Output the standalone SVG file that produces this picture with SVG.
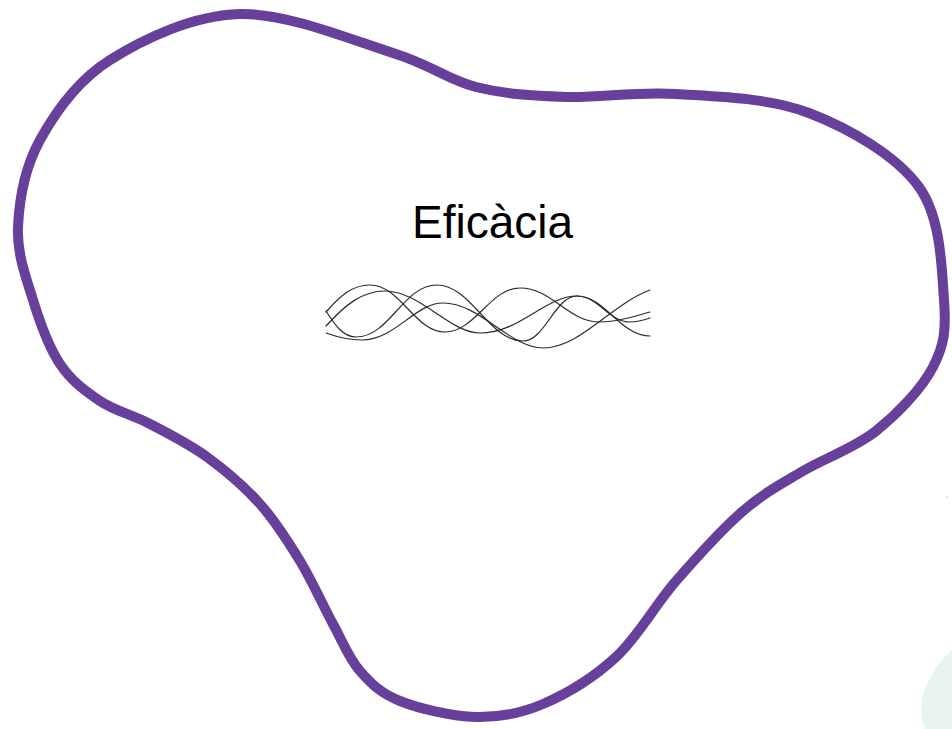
<svg xmlns="http://www.w3.org/2000/svg" width="952" height="729" viewBox="0 0 952 729">
  <style>
    .blob { fill: none; stroke: #66409a; stroke-width: 10; stroke-linejoin: round; }
    .wave { fill: none; stroke: #2b2b2b; stroke-width: 1.2; stroke-linecap: round; }
    .label { font-family: "Liberation Sans", Arial, sans-serif; font-size: 46px; fill: #000; }
  </style>
  <rect width="952" height="729" fill="#ffffff"/>
  <g id="decor">
    <path d="M952,650 C936,664 925,684 922,700 C920,712 922,722 925,729 L952,729 Z" fill="#e3f0ee" opacity="0.85"/>
    <circle cx="947" cy="497" r="1" fill="#dddddd"/>
  </g>
  <g id="outline">
    <path class="blob" d="M18,227 C19.2,200.3 24.7,167.8 40,140 C55.3,112.2 76.7,81 110,60 C143.3,39 192.8,15.2 240,14 C287.2,12.8 353.7,40.8 393,53 C432.3,65.2 447.2,79.7 476,87 C504.8,94.3 532.7,95.8 566,97 C599.3,98.2 635.5,91.3 676,94 C716.5,96.7 768.5,97.5 809,113 C849.5,128.5 896.5,155.8 919,187 C941.5,218.2 941.7,270 944,300 C946.3,330 944.3,345.2 933,367 C921.7,388.8 897.7,413.7 876,431 C854.3,448.3 825.2,457.7 803,471 C780.8,484.3 764.2,492.7 743,511 C721.8,529.3 697.2,556.7 676,581 C654.8,605.3 638.2,636.5 616,657 C593.8,677.5 566.3,694 543,704 C519.7,714 499.8,717.5 476,717 C452.2,716.5 419.3,708.7 400,701 C380.7,693.3 371.2,683.8 360,671 C348.8,658.2 343,642.3 333,624 C323,605.7 312.2,581 300,561 C287.8,541 275.5,521.3 260,504 C244.5,486.7 225.3,470.3 207,457 C188.7,443.7 167.8,433.3 150,424 C132.2,414.7 115,411 100,401 C85,391 71.2,380.8 60,364 C48.8,347.2 40,322.8 33,300 C26,277.2 16.8,253.7 18,227 Z"/>
  </g>
  <g id="node-eficacia">
    <text class="label" x="492.5" y="238" text-anchor="middle">Eficàcia</text>
  </g>
  <g id="waves">
    <path class="wave" d="M326,312 C340,296 352,285 370,285 C400,285 415,332 445,332 C475,332 490,288 520,288 C552,288 568,322 600,322 C620,322 635,316 650,312"/>
    <path class="wave" d="M326,311 C335,325 343,337 356,337 C390,337 403,285 437,285 C471,285 489,341 523,341 C545,341 555,296 577,296 C598,296 609,322 630,322 C638,322 644,320 650,318"/>
    <path class="wave" d="M326,326 C345,305 362,291 385,291 C420,291 450,333 480,333 C520,333 545,296 577,296 C605,296 620,336 650,336"/>
    <path class="wave" d="M326,333 C340,338 350,340 362,340 C395,340 415,303 443,303 C480,303 510,348 543,348 C580,348 610,305 650,290"/>
  </g>
</svg>
